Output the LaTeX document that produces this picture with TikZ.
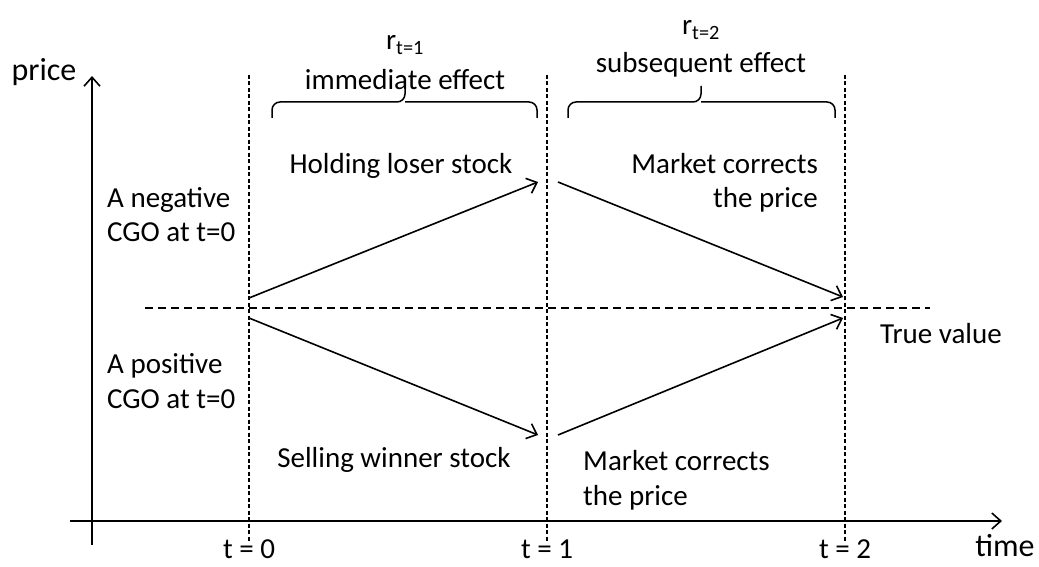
\documentclass[tikz,border=0pt]{standalone}
\usepackage{fontspec}
\setmainfont{Carlito}
\usetikzlibrary{arrows.meta}
\newcommand\twolinesL[2]{\vtop{\hbox{#1}\hbox{#2}}}
\newcommand\twolinesR[2]{\vtop{\halign{\hfil##\cr #1\cr #2\cr}}}
\begin{document}
\begin{tikzpicture}[x=1pt,y=-1pt,
  lbl/.style={inner sep=0pt,font=\fontsize{29}{35}\selectfont},
  axlbl/.style={inner sep=0pt,font=\fontsize{32}{38}\selectfont},
  axis/.style={line width=1.6pt,-{Straight Barb[length=9pt,width=16pt,line width=1.6pt]}},
  move/.style={line width=1.6pt,-{Straight Barb[length=9pt,width=16pt,line width=1.6pt]}},
  vdash/.style={line width=1.3pt,dash pattern=on 4pt off 2.5pt},
  hdash/.style={line width=1.3pt,dash pattern=on 8pt off 5pt},
  bracepath/.style={line width=1.5pt,rounded corners=8pt}]
\useasboundingbox (0,0) rectangle (1039,567);
% axes
\coordinate (yb) at (92,545);
\coordinate (yt) at (92,76);
\coordinate (xl) at (70,521);
\coordinate (xr) at (1002,521);
\draw[axis] (yb) -- (yt);
\draw[axis] (xl) -- (xr);
\node[axlbl,anchor=base] (price) at (44,81) {price};
\node[axlbl,anchor=base] (time) at (1005,556) {time};
% vertical dashed lines
\foreach \n/\x in {0/249,1/547,2/845}{
  \coordinate (vt\n) at (\x,75);
  \coordinate (vb\n) at (\x,541);
  \draw[vdash] (vt\n) -- (vb\n);
  \node[lbl,anchor=base] (tl\n) at (\x,558) {t = \n};
}
% true value line
\coordinate (hl) at (145,308);
\coordinate (hr) at (930,308);
\draw[hdash] (hl) -- (hr);
\node[lbl,anchor=base] (tv) at (941,343) {True value};
% arrows
\coordinate (a0) at (249,298);
\coordinate (a1) at (538,182);
\coordinate (b0) at (249,318);
\coordinate (b1) at (538,435);
\coordinate (c0) at (558,182);
\coordinate (c1) at (843,297);
\coordinate (d0) at (558,435);
\coordinate (d1) at (843,318);
\draw[move] (a0) -- (a1);
\draw[move] (b0) -- (b1);
\draw[move] (c0) -- (c1);
\draw[move] (d0) -- (d1);
% braces
\draw[bracepath] (272,118) -- (272,102) -- (405,102) -- (405,86);
\draw[bracepath] (537,118) -- (537,102) -- (405,102);
\draw[bracepath] (568,118) -- (568,102) -- (701,102) -- (701,86);
\draw[bracepath] (835,118) -- (835,102) -- (701,102);
% labels
\node[lbl] (r1) at (405,45) {r\textsubscript{t=1}};
\node[lbl] (ie) at (405,80) {immediate effect};
\node[lbl] (r2) at (701,30) {r\textsubscript{t=2}};
\node[lbl] (se) at (701,65) {subsequent effect};
\node[lbl,anchor=base] (hold) at (401,173) {Holding loser stock};
\node[lbl,anchor=base east] (mc1) at (818,173) {\twolinesR{Market corrects}{the price}};
\node[lbl,anchor=base west] (neg) at (107,207) {\twolinesL{A negative}{CGO at t=0}};
\node[lbl,anchor=base west] (pos) at (107,373) {\twolinesL{A positive}{CGO at t=0}};
\node[lbl,anchor=base] (sell) at (394,467) {Selling winner stock};
\node[lbl,anchor=base west] (mc2) at (583,470) {\twolinesL{Market corrects}{the price}};
\end{tikzpicture}
\end{document}
